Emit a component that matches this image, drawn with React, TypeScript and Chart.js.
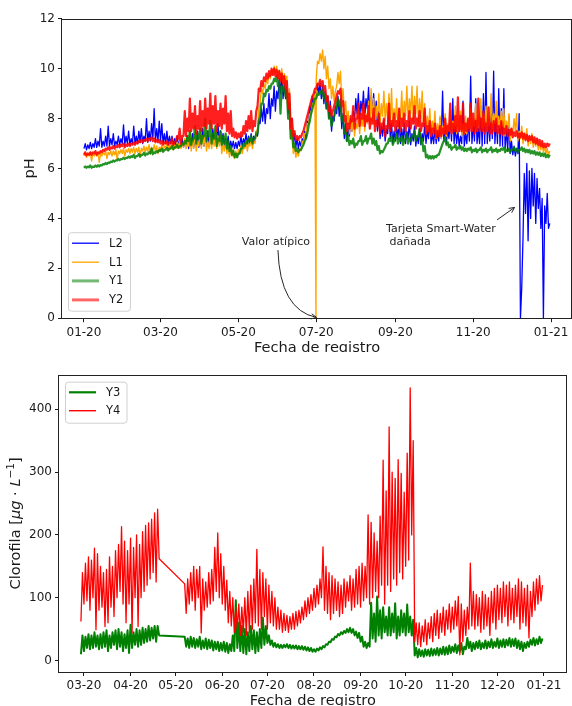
import { useEffect, useRef } from "react";
import { Chart, registerables } from "chart.js";

Chart.register(...registerables);

const FONT = "'DejaVu Sans', 'Liberation Sans', sans-serif";
const TEXT = "#1a1a1a";

// ---------------- top chart: pH ----------------
// one low and one high reading per 2-day window, days since 2020-01-01
const TOP_START_DAY = 0;
const TOP_STEP = 2;

const L2_LO = [
  6.8, 6.75, 6.8, 6.8, 6.85, 6.85, 6.9, 6.85, 6.9, 6.9,
  6.9, 6.95, 6.9, 6.95, 6.95, 7.0, 6.95, 7.0, 6.95, 7.0,
  7.0, 7.0, 7.05, 7.0, 7.1, 7.05, 7.1, 7.2, 7.1, 7.1,
  7.1, 7.0, 7.0, 6.95, 7.0, 6.9, 6.95, 6.9, 6.9, 6.85,
  6.9, 6.8, 6.9, 6.85, 6.9, 6.85, 6.9, 6.9, 7.0, 6.9,
  7.0, 7.0, 7.1, 7.0, 7.0, 6.9, 6.9, 6.8, 6.85, 6.8,
  6.8, 6.9, 6.9, 7.0, 7.0, 7.0, 7.0, 7.1, 7.3, 7.8,
  7.9, 7.8, 8.2, 8.0, 8.5, 8.3, 8.8, 9.0, 8.8, 8.8,
  8.2, 7.4, 7.0, 6.85, 6.8, 6.9, 7.0, 7.2, 7.8, 8.3,
  8.6, 8.9, 9.0, 8.8, 8.6, 8.4, 8.0, 7.5, 7.9, 8.2,
  8.1, 7.6, 7.2, 7.1, 7.3, 7.5, 7.9, 8.2, 8.0, 8.3,
  8.0, 8.4, 8.1, 8.2, 7.9, 7.5, 7.2, 7.3, 7.1, 7.4,
  7.2, 7.0, 7.1, 7.2, 7.0, 7.1, 7.0, 7.2, 6.95, 7.1,
  6.9, 7.0, 6.95, 7.1, 7.0, 7.2, 7.0, 7.0, 7.0, 7.1,
  7.2, 7.1, 7.0, 7.2, 7.1, 7.0, 7.0, 6.9, 7.0, 6.9,
  7.0, 7.1, 7.0, 7.1, 7.0, 7.0, 6.9, 7.0, 7.0, 7.1,
  7.2, 7.0, 7.0, 6.9, 6.9, 6.8, 6.7, 6.6, 6.55, 6.5,
  6.6, 0.0, 3.2, 4.2, 3.1, 4.0, 4.5, 3.8, 4.4, 3.6,
  0.0, 3.8, 3.6,
];
const L2_HI = [
  7.0, 6.95, 7.05, 7.0, 7.2, 7.1, 7.6, 7.1, 7.3, 7.7,
  7.2, 7.4, 7.1, 7.3, 7.2, 7.75, 7.3, 7.5, 7.2, 7.7,
  7.3, 7.5, 7.6, 7.3, 8.0, 7.5, 7.8, 8.4, 7.6, 7.9,
  7.8, 7.4, 7.5, 7.3, 7.3, 7.2, 7.3, 7.15, 7.2, 7.1,
  7.3, 7.2, 7.4, 7.2, 7.5, 7.3, 7.6, 7.3, 7.5, 7.3,
  7.6, 7.4, 7.8, 7.5, 7.4, 7.2, 7.3, 7.1, 7.1, 7.05,
  7.1, 7.3, 7.2, 7.4, 7.3, 7.4, 7.3, 7.5, 7.9, 8.4,
  8.6, 8.4, 9.0, 8.8, 9.3, 9.1, 9.6, 9.8, 9.4, 9.4,
  9.0, 8.0, 7.4, 7.2, 7.1, 7.2, 7.5, 7.9, 8.5, 8.9,
  9.1, 9.4, 9.4, 9.3, 9.1, 8.9, 8.7, 8.1, 8.5, 8.9,
  8.8, 8.2, 7.8, 7.6, 8.0, 8.3, 8.8, 9.0, 8.7, 9.1,
  8.8, 9.25, 8.9, 9.0, 8.7, 8.3, 7.7, 7.9, 7.6, 8.8,
  7.8, 7.5, 7.7, 7.9, 7.6, 7.8, 7.5, 7.9, 7.4, 7.7,
  7.3, 7.6, 7.4, 7.8, 7.5, 7.9, 7.4, 7.6, 7.5, 8.0,
  9.1, 7.8, 7.6, 8.0, 8.8, 7.7, 7.5, 7.3, 8.7, 7.4,
  7.9, 9.7, 7.8, 8.8, 7.6, 8.5, 9.0, 9.85, 8.0, 8.6,
  9.9, 8.0, 9.2, 8.4, 9.2, 7.6, 8.1, 7.1, 6.9, 6.8,
  8.2, 1.2, 5.8, 6.2, 5.9, 6.0, 5.8, 5.6, 5.2, 4.8,
  4.5, 5.0, 3.8,
];

const L1_LO = [
  6.5, 6.45, 6.5, 6.3, 6.5, 6.5, 6.25, 6.5, 6.55, 6.4,
  6.55, 6.5, 6.55, 6.35, 6.6, 6.6, 6.5, 6.65, 6.6, 6.65,
  6.6, 6.65, 6.5, 6.7, 6.65, 6.7, 6.6, 6.7, 6.7, 6.6,
  6.75, 6.7, 6.8, 6.75, 6.8, 6.75, 6.8, 6.85, 6.8, 6.85,
  6.8, 6.9, 6.7, 6.8, 6.7, 6.9, 6.8, 6.9, 6.7, 6.8,
  6.8, 6.9, 6.8, 6.9, 6.6, 6.7, 6.6, 6.45, 6.5, 6.4,
  6.45, 6.6, 6.6, 6.8, 6.7, 6.9, 6.8, 7.0, 7.6, 8.6,
  9.0, 9.2, 9.4, 9.6, 9.8, 9.8, 9.6, 9.6, 9.4, 9.3,
  8.5, 7.2, 6.6, 6.45, 6.5, 6.7, 7.0, 7.4, 7.8, 8.2,
  8.6, 9.6, 10.2, 10.3, 10.0, 9.6, 9.2, 8.8, 8.7, 9.3,
  9.4, 8.7, 8.2, 7.8, 7.4, 7.5, 7.3, 7.6, 7.4, 7.7,
  7.5, 7.8, 7.6, 7.9, 7.7, 8.0, 7.8, 8.1, 7.9, 8.0,
  7.8, 7.7, 7.9, 7.6, 8.0, 7.8, 8.1, 7.9, 8.2, 7.9,
  8.2, 7.8, 8.0, 7.7, 7.4, 7.6, 7.3, 7.5, 7.2, 7.4,
  7.2, 7.4, 7.3, 7.5, 7.4, 7.6, 7.4, 7.5, 7.3, 7.4,
  7.4, 7.6, 7.5, 7.7, 7.5, 7.7, 7.6, 7.7, 7.5, 7.7,
  7.6, 7.8, 7.5, 7.6, 7.7, 7.3, 7.5, 7.1, 7.4, 7.5,
  7.1, 7.2, 7.0, 7.1, 6.9, 7.0, 6.85, 6.9, 6.75, 6.75,
  6.65, 6.6, 6.55,
];
const L1_HI = [
  6.65, 6.6, 6.65, 6.6, 6.65, 6.65, 6.6, 6.65, 6.7, 6.65,
  6.7, 6.7, 6.75, 6.7, 6.75, 6.8, 6.75, 6.8, 6.8, 6.85,
  6.8, 6.85, 6.8, 6.9, 6.85, 6.95, 6.85, 6.95, 6.9, 6.85,
  6.95, 6.9, 7.0, 6.95, 7.05, 6.95, 7.05, 7.1, 7.0, 7.2,
  7.2, 7.5, 7.1, 7.4, 7.1, 7.6, 7.3, 7.4, 7.1, 7.3,
  7.2, 7.5, 7.3, 7.4, 7.0, 7.1, 6.9, 6.8, 6.8, 6.7,
  6.75, 6.9, 6.85, 7.1, 7.0, 7.2, 7.1, 7.4, 8.4, 9.2,
  9.4, 9.6, 9.8, 9.95, 10.1, 10.1, 9.95, 10.0, 9.8, 9.7,
  9.2, 7.9, 6.9, 6.7, 6.8, 7.1, 7.4, 7.8, 8.2, 8.6,
  9.0, 10.3, 10.6, 10.75, 10.5, 10.1, 9.6, 9.3, 9.1, 9.85,
  9.9, 9.2, 8.7, 8.3, 7.9, 8.1, 7.8, 8.3, 8.0, 8.5,
  8.2, 8.7, 9.2, 8.8, 8.5, 9.0, 8.6, 9.1, 8.6, 9.0,
  9.2, 8.4, 8.8, 8.3, 9.1, 8.7, 9.3, 8.8, 9.3, 8.9,
  9.3, 8.8, 9.1, 8.6, 8.1, 8.4, 7.9, 8.3, 7.8, 8.1,
  7.7, 8.2, 7.8, 8.3, 7.9, 8.5, 8.0, 8.3, 7.8, 8.1,
  7.9, 8.4, 8.0, 8.6, 8.1, 8.8, 8.2, 8.5, 8.0, 9.0,
  8.2, 8.7, 8.1, 8.3, 8.4, 7.9, 8.2, 7.6, 8.0, 8.2,
  7.5, 7.7, 7.4, 7.6, 7.3, 7.4, 7.15, 7.2, 7.0, 7.0,
  6.9, 6.8, 6.7,
];
// the single atypical L1 reading on 07-20
const L1_OUTLIER_DAY = 181.8;
const L1_OUTLIER_VALUE = 0;

const Y1_LO = [
  6.03, 6.03, 6.05, 6.03, 6.06, 6.07, 6.08, 6.12, 6.16, 6.18,
  6.22, 6.26, 6.28, 6.32, 6.33, 6.37, 6.38, 6.42, 6.43, 6.46,
  6.42, 6.5, 6.47, 6.55, 6.52, 6.57, 6.6, 6.57, 6.62, 6.66,
  6.7, 6.67, 6.75, 6.72, 6.8, 6.77, 6.85, 6.82, 6.9, 6.95,
  7.0, 7.1, 6.95, 7.2, 7.0, 7.2, 7.0, 7.3, 7.1, 7.3,
  7.0, 7.2, 6.9, 7.1, 6.95, 7.0, 6.8, 6.7, 6.55, 6.45,
  6.45, 6.6, 6.8, 6.9, 7.0, 7.1, 7.0, 7.2, 7.4, 8.1,
  8.6, 8.9, 9.1, 9.2, 9.4, 9.5, 9.3, 8.2, 9.1, 8.9,
  8.0, 7.2, 6.85, 6.7, 6.65, 6.75, 6.95, 7.2, 7.7, 8.2,
  8.6, 8.8, 8.95, 9.0, 8.8, 8.4, 8.0, 7.7, 8.1, 8.6,
  8.5, 7.9, 7.4, 7.1, 6.95, 7.0, 6.85, 6.95, 7.1, 6.95,
  7.1, 7.0, 7.2, 7.0, 6.95, 6.75, 6.6, 6.65, 6.85, 7.0,
  7.1, 6.95, 7.2, 7.0, 7.1, 6.95, 7.2, 7.0, 7.1, 7.3,
  7.1, 7.3, 7.0, 6.7, 6.45, 6.4, 6.4, 6.4, 6.45, 6.55,
  6.85, 7.1, 6.95, 6.85, 6.75, 6.85, 6.75, 6.8, 6.75, 6.7,
  6.7, 6.75, 6.65, 6.7, 6.65, 6.75, 6.65, 6.7, 6.65, 6.75,
  6.65, 6.7, 6.65, 6.7, 6.75, 6.65, 6.7, 6.65, 6.75, 6.7,
  6.65, 6.75, 6.7, 6.65, 6.65, 6.6, 6.6, 6.55, 6.55, 6.5,
  6.5, 6.45, 6.45,
];
const Y1_HI = [
  6.08, 6.08, 6.12, 6.08, 6.12, 6.13, 6.14, 6.18, 6.22, 6.24,
  6.28, 6.32, 6.33, 6.38, 6.38, 6.43, 6.43, 6.48, 6.5, 6.55,
  6.5, 6.58, 6.55, 6.63, 6.6, 6.65, 6.8, 6.65, 6.7, 6.74,
  6.8, 6.74, 6.83, 6.8, 6.9, 6.85, 6.95, 6.9, 7.0, 7.1,
  7.3, 7.5, 7.2, 7.7, 7.4, 7.6, 7.3, 8.0, 7.5, 7.9,
  7.4, 7.7, 7.2, 7.5, 7.3, 7.4, 7.1, 6.9, 6.7, 6.6,
  6.6, 6.8, 7.0, 7.1, 7.2, 7.3, 7.2, 7.4, 7.9, 8.6,
  9.0, 9.15, 9.3, 9.4, 9.6, 9.7, 9.5, 9.3, 9.3, 9.1,
  8.6, 7.5, 7.0, 6.8, 6.75, 6.85, 7.1, 7.4, 7.9, 8.4,
  8.8, 9.0, 9.1, 9.15, 9.0, 8.6, 8.2, 7.9, 8.3, 8.8,
  8.7, 8.1, 7.6, 7.3, 7.1, 7.2, 7.0, 7.1, 7.3, 7.1,
  7.3, 7.2, 7.4, 7.2, 7.1, 6.9, 6.7, 6.75, 7.0, 7.2,
  7.3, 7.1, 7.4, 7.2, 7.3, 7.1, 7.4, 7.2, 7.3, 7.5,
  7.3, 7.6, 7.2, 6.9, 6.55, 6.5, 6.5, 6.5, 6.55, 6.7,
  7.0, 7.25, 7.05, 6.95, 6.85, 6.95, 6.85, 6.9, 6.85, 6.8,
  6.8, 6.85, 6.75, 6.8, 6.75, 6.85, 6.75, 6.8, 6.75, 6.85,
  6.75, 6.8, 6.75, 6.8, 6.85, 6.75, 6.8, 6.75, 6.85, 6.8,
  6.75, 6.85, 6.8, 6.75, 6.75, 6.7, 6.7, 6.65, 6.65, 6.6,
  6.6, 6.55, 6.55,
];

const Y2_LO = [
  6.55, 6.52, 6.55, 6.55, 6.6, 6.55, 6.6, 6.65, 6.7, 6.75,
  6.75, 6.8, 6.8, 6.85, 6.85, 6.9, 6.85, 6.9, 6.9, 6.95,
  6.95, 7.0, 7.05, 7.05, 7.1, 7.1, 7.15, 7.1, 7.05, 7.05,
  7.0, 6.95, 7.0, 6.95, 7.0, 6.95, 7.1, 7.2, 7.0, 7.3,
  7.3, 7.5, 7.5, 7.6, 7.4, 7.6, 7.5, 7.7, 7.6, 7.8,
  7.6, 7.8, 7.5, 7.7, 7.6, 7.8, 7.5, 7.4, 7.3, 7.25,
  7.2, 7.25, 7.3, 7.4, 7.5, 7.6, 7.5, 7.7, 8.5, 9.1,
  9.3, 9.5, 9.6, 9.7, 9.75, 9.7, 9.6, 9.5, 9.4, 9.2,
  8.4, 7.6, 7.3, 7.15, 7.15, 7.25, 7.5, 7.9, 8.3, 8.7,
  9.0, 9.2, 9.35, 9.3, 9.1, 8.7, 8.3, 8.1, 8.5, 8.9,
  9.0, 8.5, 7.9, 7.5, 7.6, 7.9, 7.6, 8.0, 7.7, 8.0,
  7.7, 7.9, 7.6, 7.8, 7.5, 7.7, 7.4, 7.6, 7.3, 7.6,
  7.5, 7.7, 7.5, 7.7, 7.5, 7.7, 7.5, 7.7, 7.6, 7.8,
  7.6, 7.7, 7.5, 7.7, 7.4, 7.5, 7.3, 7.4, 7.25, 7.3,
  7.3, 7.4, 7.4, 7.5, 7.4, 7.5, 7.5, 7.5, 7.5, 7.4,
  7.5, 7.5, 7.5, 7.4, 7.5, 7.5, 7.5, 7.4, 7.5, 7.4,
  7.4, 7.5, 7.4, 7.4, 7.35, 7.4, 7.3, 7.35, 7.25, 7.3,
  7.25, 7.25, 7.2, 7.15, 7.1, 7.15, 7.05, 7.0, 6.95, 6.9,
  6.85, 6.85, 6.9,
];
const Y2_HI = [
  6.65, 6.6, 6.65, 6.65, 6.7, 6.65, 6.7, 6.75, 6.8, 6.85,
  6.85, 6.9, 6.9, 6.95, 6.95, 7.0, 6.95, 7.0, 7.0, 7.05,
  7.05, 7.1, 7.15, 7.15, 7.2, 7.2, 7.25, 7.2, 7.15, 7.15,
  7.1, 7.05, 7.1, 7.05, 7.2, 7.05, 7.3, 7.6, 7.3, 8.3,
  8.0, 8.8, 8.2, 8.5, 8.1, 8.7, 8.3, 8.8, 8.4, 9.0,
  8.5, 8.9, 8.3, 8.6, 8.4, 8.9, 8.2, 8.3, 7.6, 7.45,
  7.4, 7.45, 7.7, 7.9, 8.1, 8.3, 7.9, 8.3, 9.2, 9.5,
  9.65, 9.8, 9.9, 10.0, 10.0, 9.95, 9.9, 9.8, 9.7, 9.5,
  9.0, 8.0, 7.5, 7.3, 7.3, 7.4, 7.7, 8.1, 8.5, 8.9,
  9.2, 9.4, 9.55, 9.5, 9.3, 8.9, 8.5, 8.3, 8.7, 9.1,
  9.2, 8.7, 8.1, 7.8, 8.1, 8.5, 8.0, 8.6, 8.2, 8.6,
  8.1, 8.5, 8.0, 8.4, 7.9, 8.2, 7.8, 8.0, 7.7, 8.6,
  7.9, 8.2, 7.9, 8.4, 8.0, 8.2, 7.9, 8.3, 8.0, 8.5,
  8.0, 8.3, 7.8, 8.4, 7.7, 7.9, 7.6, 7.8, 7.5, 7.7,
  7.6, 8.0, 7.7, 8.6, 7.8, 8.1, 8.85, 8.1, 8.6, 7.8,
  8.0, 8.6, 8.2, 7.9, 8.8, 8.0, 8.3, 7.8, 8.45, 7.8,
  7.9, 8.0, 7.7, 7.9, 7.6, 7.7, 7.55, 7.6, 7.45, 7.5,
  7.4, 7.45, 7.4, 7.35, 7.3, 7.3, 7.25, 7.2, 7.15, 7.1,
  7.0, 7.0, 7.0,
];

const TOP_TICK_DAYS = [0, 60, 121, 182, 244, 305, 366];
const TOP_TICK_LABELS = ["01-20", "03-20", "05-20", "07-20", "09-20", "11-20", "01-21"];
const PH_TICKS = [0, 2, 4, 6, 8, 10, 12];

// ---------------- bottom chart: chlorophyll ----------------
// one low and one high reading per 2-day window from day 58 (null = no data)
const BOT_START_DAY = 58;
const BOT_STEP = 2;

const Y4_LO = [
  62, 90, 95, 80, 100, 49, 80, 85, 54, 60,
  85, 70, 100, 110, 90, 60, 90, 44, 100, 54,
  100, 110, 120, 130, 140, 125, 162, null, null, null,
  null, null, null, null, null, 75, 90, 95, 80, 100,
  44, 80, 85, 90, 95, 110, 100, 90, 80, 60,
  55, 45, 50, 40, 45, 40, 45, 50, 60, 55,
  50, 70, 50, 60, 55, 50, 50, 45, 48, 45,
  50, 50, 55, 60, 65, 70, 75, 80, 85, 90,
  100, 80, 75, 65, 75, 80, 70, 75, 85, 95,
  80, 85, 90, 85, 95, 100, 90, 100, 110, 100,
  120, 90, 120, 110, 130, 120, 140, 130, 150, 160,
  200, 30, 25, 22, 30, 25, 35, 30, 40, 35,
  45, 40, 50, 45, 50, 55, 9, 30, 40, 50,
  55, 50, 55, 45, 50, 55, 40, 60, 50, 65,
  60, 70, 55, 65, 60, 70, 50, 60, 55, 36,
  70, 80, 90, 95,
];
const Y4_HI = [
  140, 155, 165, 160, 179, 170, 150, 140, 145, 165,
  150, 175, 185, 213, 190, 175, 195, 180, 200, 185,
  205, 215, 219, 225, 235, 241, null, null, null, null,
  null, null, null, null, 122, 130, 140, 150, 145, 150,
  130, 125, 140, 145, 180, 203, 170, 150, 128, 110,
  100, 85, 90, 85, 100, 110, 120, 130, 177, 145,
  140, 130, 120, 110, 100, 85, 80, 75, 72, 70,
  75, 78, 80, 85, 95, 100, 105, 115, 120, 130,
  181, 150, 140, 135, 130, 125, 120, 130, 125, 135,
  130, 145, 150, 155, 150, 232, 220, 203, 190, 230,
  319, 270, 372, 300, 290, 320, 298, 268, 330, 434,
  350, 60, 60, 55, 65, 60, 70, 75, 80, 75,
  85, 80, 90, 85, 95, 102, 90, 80, 85, 155,
  110, 105, 100, 110, 105, 100, 110, 115, 120, 115,
  125, 120, 125, 115, 120, 130, 125, 115, 120, 110,
  125, 130, 135, 120,
];

const Y3_LO = [
  10, 15, 20, 18, 20, 22, 18, 20, 22, 15,
  20, 25, 18, 22, 15, 20, 12, 20, 25, 22,
  25, 28, 30, 32, 35, 30, 40, null, null, null,
  null, null, null, null, null, 22, 20, 22, 20, 22,
  18, 20, 18, 20, 16, 18, 15, 16, 14, 12,
  15, 15, 20, 15, 12, 10, 15, 18, 12, 15,
  20, 25, 28, 25, 22, 21, 20, 20, 21, 20,
  19, 19, 18, 18, 17, 16, 15, 14, 14, 16,
  18, 21, 25, 29, 33, 37, 40, 42, 44, 45,
  44, 40, 36, 30, 22, 20, 22, 35, 30, 40,
  35, 45, 40, 40, 45, 35, 40, 45, 40, 45,
  40, 8, 5, 7, 6, 8, 7, 8, 9, 8,
  10, 9, 10, 12, 14, 12, 14, 10, 18, 20,
  15, 18, 20, 18, 20, 19, 21, 20, 22, 20,
  22, 21, 24, 22, 23, 20, 18, 15, 20, 22,
  25, 24, 26, 28,
];
const Y3_HI = [
  40, 38, 42, 40, 45, 40, 42, 45, 48, 40,
  45, 48, 50, 45, 42, 48, 57, 45, 50, 48,
  52, 50, 55, 52, 55, 55, null, null, null, null,
  null, null, null, null, 38, 35, 38, 36, 34, 38,
  32, 35, 33, 32, 30, 30, 28, 30, 28, 26,
  40, 96, 60, 55, 50, 45, 55, 48, 45, 50,
  68, 55, 40, 32, 28, 26, 25, 25, 26, 25,
  24, 24, 23, 23, 22, 21, 20, 18, 19, 21,
  23, 26, 30, 34, 38, 42, 45, 47, 50, 52,
  50, 46, 44, 38, 30, 28, 92, 75, 102, 80,
  85, 70, 85, 75, 91, 70, 80, 75, 89, 70,
  65, 20, 18, 16, 18, 17, 19, 18, 20, 19,
  22, 21, 24, 22, 26, 24, 28, 22, 36, 30,
  28, 30, 32, 28, 32, 30, 34, 30, 35, 32,
  34, 33, 36, 34, 35, 32, 30, 28, 30, 33,
  36, 34, 38, 35,
];

const BOT_TICK_DAYS = [60, 91, 121, 152, 182, 213, 244, 274, 305, 335, 366];
const BOT_TICK_LABELS = ["03-20", "04-20", "05-20", "06-20", "07-20", "08-20", "09-20", "10-20", "11-20", "12-20", "01-21"];
const CHL_TICKS = [0, 100, 200, 300, 400];

// annotations (data coordinates)
const VALOR_TEXT = { day: 123.7, ph: 2.95 };
const VALOR_ARROW = { x0: 152.0, y0: 2.73, cx: 153.6, cy: 0.33, x1: 182.2, y1: 0.03 };
const TARJETA_TEXT = { day: 236.7, ph: 3.44 };
const TARJETA_ARROW = { x0: 323.7, y0: 3.94, x1: 337.4, y1: 4.44 };

type Pt = { x: number; y: number | null };

// each window gives its low reading at its first day and its high reading on the next day
function envelopePoints(lo: (number | null)[], hi: (number | null)[], start: number, step: number): Pt[] {
  const pts: Pt[] = [];
  lo.forEach((v, i) => {
    const d = start + i * step;
    pts.push({ x: d, y: v });
    pts.push({ x: d + 1, y: hi[i] });
  });
  return pts;
}

function xScale(min: number, max: number, days: number[], labels: string[], h: number) {
  return {
    type: "linear" as const,
    min,
    max,
    afterBuildTicks: (s: any) => {
      s.ticks = days.map((v) => ({ value: v }));
    },
    afterFit: (s: any) => {
      s.height = h;
    },
    ticks: {
      autoSkip: false,
      maxRotation: 0,
      minRotation: 0,
      padding: 3,
      color: TEXT,
      font: { family: FONT, size: 12 },
      callback: (_v: any, i: number) => labels[i],
    },
    grid: { display: true, drawOnChartArea: false, drawTicks: true, tickLength: 4, color: TEXT, lineWidth: 1 },
    border: { display: false },
  };
}

function yScale(min: number, max: number, ticksArr: number[], w: number) {
  return {
    type: "linear" as const,
    min,
    max,
    afterBuildTicks: (s: any) => {
      s.ticks = ticksArr.map((v) => ({ value: v }));
    },
    afterFit: (s: any) => {
      s.width = w;
    },
    ticks: {
      padding: 3,
      color: TEXT,
      font: { family: FONT, size: 12 },
      callback: (v: any) => String(v),
    },
    grid: { display: true, drawOnChartArea: false, drawTicks: true, tickLength: 4, color: TEXT, lineWidth: 1 },
    border: { display: false },
  };
}

function drawBox(chart: any) {
  const { ctx, chartArea: a } = chart;
  ctx.save();
  ctx.strokeStyle = "#222";
  ctx.lineWidth = 1;
  const l = Math.round(a.left) - 0.5;
  const t = Math.round(a.top) + 0.5;
  const r = Math.round(a.right) - 0.5;
  const b = Math.round(a.bottom) + 0.5;
  ctx.strokeRect(l, t, r - l, b - t);
  ctx.restore();
}

function roundRectPath(ctx: CanvasRenderingContext2D, x: number, y: number, w: number, h: number, r: number) {
  ctx.beginPath();
  ctx.moveTo(x + r, y);
  ctx.lineTo(x + w - r, y);
  ctx.quadraticCurveTo(x + w, y, x + w, y + r);
  ctx.lineTo(x + w, y + h - r);
  ctx.quadraticCurveTo(x + w, y + h, x + w - r, y + h);
  ctx.lineTo(x + r, y + h);
  ctx.quadraticCurveTo(x, y + h, x, y + h - r);
  ctx.lineTo(x, y + r);
  ctx.quadraticCurveTo(x, y, x + r, y);
  ctx.closePath();
}

type LegendEntry = { label: string; color: string; width: number; dy: number };

function drawLegend(ctx: CanvasRenderingContext2D, x: number, y: number, w: number, h: number, entries: LegendEntry[]) {
  ctx.save();
  roundRectPath(ctx, x + 0.5, y + 0.5, w, h, 3);
  ctx.fillStyle = "rgba(255,255,255,0.85)";
  ctx.fill();
  ctx.strokeStyle = "#d0d0d0";
  ctx.lineWidth = 1;
  ctx.stroke();
  ctx.font = `11.5px ${FONT}`;
  ctx.textBaseline = "middle";
  ctx.textAlign = "left";
  for (const e of entries) {
    ctx.beginPath();
    ctx.strokeStyle = e.color;
    ctx.lineWidth = e.width;
    ctx.moveTo(x + 4, y + e.dy);
    ctx.lineTo(x + 31, y + e.dy);
    ctx.stroke();
    ctx.fillStyle = TEXT;
    ctx.fillText(e.label, x + 41, y + e.dy + 0.5);
  }
  ctx.restore();
}

type Piece = { text: string; font: string; dy?: number };

function drawRotated(ctx: CanvasRenderingContext2D, cx: number, cy: number, pieces: Piece[]) {
  ctx.save();
  ctx.translate(cx, cy);
  ctx.rotate(-Math.PI / 2);
  ctx.fillStyle = TEXT;
  ctx.textBaseline = "alphabetic";
  ctx.textAlign = "left";
  let total = 0;
  for (const p of pieces) {
    ctx.font = p.font;
    total += ctx.measureText(p.text).width;
  }
  let x = -total / 2;
  for (const p of pieces) {
    ctx.font = p.font;
    ctx.fillText(p.text, x, p.dy || 0);
    x += ctx.measureText(p.text).width;
  }
  ctx.restore();
}

function arrowHead(ctx: CanvasRenderingContext2D, fx: number, fy: number, tx: number, ty: number, size: number) {
  const ang = Math.atan2(ty - fy, tx - fx);
  ctx.beginPath();
  ctx.moveTo(tx - size * Math.cos(ang - 0.45), ty - size * Math.sin(ang - 0.45));
  ctx.lineTo(tx, ty);
  ctx.lineTo(tx - size * Math.cos(ang + 0.45), ty - size * Math.sin(ang + 0.45));
  ctx.stroke();
}

const LABEL_FONT = `14.6px ${FONT}`;

function topConfig(): any {
  const l1Points = envelopePoints(L1_LO, L1_HI, TOP_START_DAY, TOP_STEP);
  l1Points.push({ x: L1_OUTLIER_DAY, y: L1_OUTLIER_VALUE });
  l1Points.sort((a, b) => a.x - b.x);

  const decor = {
    id: "topDecor",
    afterDatasetsDraw(chart: any) {
      drawBox(chart);
    },
    afterDraw(chart: any) {
      const { ctx, chartArea: a, scales } = chart;
      const xs = scales.x;
      const ys = scales.y;
      ctx.save();
      ctx.fillStyle = TEXT;
      ctx.font = LABEL_FONT;
      ctx.textAlign = "center";
      ctx.textBaseline = "alphabetic";
      ctx.fillText("Fecha de registro", (a.left + a.right) / 2, 351.5);
      drawRotated(ctx, 34, (a.top + a.bottom) / 2, [{ text: "pH", font: LABEL_FONT }]);

      ctx.font = `11px ${FONT}`;
      ctx.fillStyle = "#262626";
      ctx.textAlign = "left";
      ctx.textBaseline = "alphabetic";
      ctx.fillText("Valor atípico", xs.getPixelForValue(VALOR_TEXT.day), ys.getPixelForValue(VALOR_TEXT.ph));
      const tx = xs.getPixelForValue(TARJETA_TEXT.day);
      const ty = ys.getPixelForValue(TARJETA_TEXT.ph);
      ctx.fillText("Tarjeta Smart-Water", tx, ty);
      ctx.fillText(" dañada", tx, ty + 12.5);

      ctx.strokeStyle = "#262626";
      ctx.lineWidth = 1;
      const p0x = xs.getPixelForValue(VALOR_ARROW.x0), p0y = ys.getPixelForValue(VALOR_ARROW.y0);
      const pcx = xs.getPixelForValue(VALOR_ARROW.cx), pcy = ys.getPixelForValue(VALOR_ARROW.cy);
      const p1x = xs.getPixelForValue(VALOR_ARROW.x1), p1y = ys.getPixelForValue(VALOR_ARROW.y1);
      ctx.beginPath();
      ctx.moveTo(p0x, p0y);
      ctx.quadraticCurveTo(pcx, pcy, p1x, p1y);
      ctx.stroke();
      arrowHead(ctx, pcx, pcy, p1x, p1y, 6);

      const q0x = xs.getPixelForValue(TARJETA_ARROW.x0), q0y = ys.getPixelForValue(TARJETA_ARROW.y0);
      const q1x = xs.getPixelForValue(TARJETA_ARROW.x1), q1y = ys.getPixelForValue(TARJETA_ARROW.y1);
      ctx.beginPath();
      ctx.moveTo(q0x, q0y);
      ctx.lineTo(q1x, q1y);
      ctx.stroke();
      arrowHead(ctx, q0x, q0y, q1x, q1y, 6);
      ctx.restore();

      drawLegend(ctx, a.left + 6, a.bottom - 86, 62, 78.5, [
        { label: "L2", color: "#0000ff", width: 1.3, dy: 11 },
        { label: "L1", color: "#ffa500", width: 1.3, dy: 30 },
        { label: "Y1", color: "rgba(0,128,0,0.55)", width: 3, dy: 48.7 },
        { label: "Y2", color: "rgba(255,0,0,0.6)", width: 3, dy: 67.7 },
      ]);
    },
  };

  const common = { pointRadius: 0, tension: 0, borderJoinStyle: "round", borderCapStyle: "butt", fill: false };
  return {
    type: "line",
    data: {
      datasets: [
        { ...common, label: "L2", data: envelopePoints(L2_LO, L2_HI, TOP_START_DAY, TOP_STEP), borderColor: "#0000ff", borderWidth: 1.3, order: 4 },
        { ...common, label: "L1", data: l1Points, borderColor: "#ffa500", borderWidth: 1.4, order: 3 },
        { ...common, label: "Y1", data: envelopePoints(Y1_LO, Y1_HI, TOP_START_DAY, TOP_STEP), borderColor: "rgba(0,128,0,0.85)", borderWidth: 2.2, order: 2 },
        { ...common, label: "Y2", data: envelopePoints(Y2_LO, Y2_HI, TOP_START_DAY, TOP_STEP), borderColor: "rgba(255,0,0,0.88)", borderWidth: 2.2, order: 1 },
      ],
    },
    options: {
      responsive: false,
      maintainAspectRatio: false,
      devicePixelRatio: 1,
      animation: false,
      layout: { padding: { left: 0, top: 18.8, right: 0, bottom: 0 } },
      plugins: { legend: { display: false }, tooltip: { enabled: false }, title: { display: false } },
      scales: {
        x: xScale(-17.2, 382.4, TOP_TICK_DAYS, TOP_TICK_LABELS, 33.8),
        y: yScale(0, 12, PH_TICKS, 62),
      },
    },
    plugins: [decor],
  };
}

function botConfig(): any {
  const decor = {
    id: "botDecor",
    afterDatasetsDraw(chart: any) {
      drawBox(chart);
    },
    afterDraw(chart: any) {
      const { ctx, chartArea: a } = chart;
      ctx.save();
      ctx.fillStyle = TEXT;
      ctx.font = LABEL_FONT;
      ctx.textAlign = "center";
      ctx.textBaseline = "alphabetic";
      ctx.fillText("Fecha de registro", (a.left + a.right) / 2, 353);
      const it = `italic 14.6px ${FONT}`;
      drawRotated(ctx, 19.5, (a.top + a.bottom) / 2, [
        { text: "Clorofila [", font: LABEL_FONT },
        { text: "μg", font: it },
        { text: " · ", font: LABEL_FONT },
        { text: "L", font: it },
        { text: "−1", font: `10.5px ${FONT}`, dy: -6 },
        { text: "]", font: LABEL_FONT },
      ]);
      ctx.restore();
      drawLegend(ctx, a.left + 6, a.top + 7, 61.5, 41, [
        { label: "Y3", color: "#008000", width: 2.2, dy: 10.6 },
        { label: "Y4", color: "#ff0000", width: 1.4, dy: 29 },
      ]);
    },
  };
  const common = { pointRadius: 0, tension: 0, borderJoinStyle: "round", borderCapStyle: "butt", fill: false, spanGaps: true };
  return {
    type: "line",
    data: {
      datasets: [
        { ...common, label: "Y3", data: envelopePoints(Y3_LO, Y3_HI, BOT_START_DAY, BOT_STEP), borderColor: "#008000", borderWidth: 2, order: 2 },
        { ...common, label: "Y4", data: envelopePoints(Y4_LO, Y4_HI, BOT_START_DAY, BOT_STEP), borderColor: "#ff0000", borderWidth: 1.3, order: 1 },
      ],
    },
    options: {
      responsive: false,
      maintainAspectRatio: false,
      devicePixelRatio: 1,
      animation: false,
      layout: { padding: { left: 0, top: 22.7, right: 5.3, bottom: 0 } },
      plugins: { legend: { display: false }, tooltip: { enabled: false }, title: { display: false } },
      scales: {
        x: xScale(43.4, 381.1, BOT_TICK_DAYS, BOT_TICK_LABELS, 34),
        y: yScale(-18.3, 455.1, CHL_TICKS, 59),
      },
    },
    plugins: [decor],
  };
}

export default function App() {
  const topRef = useRef<HTMLCanvasElement>(null);
  const botRef = useRef<HTMLCanvasElement>(null);
  useEffect(() => {
    const c1 = new Chart(topRef.current as HTMLCanvasElement, topConfig());
    const c2 = new Chart(botRef.current as HTMLCanvasElement, botConfig());
    return () => {
      c1.destroy();
      c2.destroy();
    };
  }, []);
  return (
    <div style={{ position: "absolute", left: 0, top: 0, width: 572, height: 706, background: "#fff", overflow: "hidden" }}>
      <canvas ref={topRef} width={572} height={352} style={{ position: "absolute", left: 0, top: 0, width: 572, height: 352 }} />
      <canvas ref={botRef} width={572} height={354} style={{ position: "absolute", left: 0, top: 352, width: 572, height: 354 }} />
    </div>
  );
}
